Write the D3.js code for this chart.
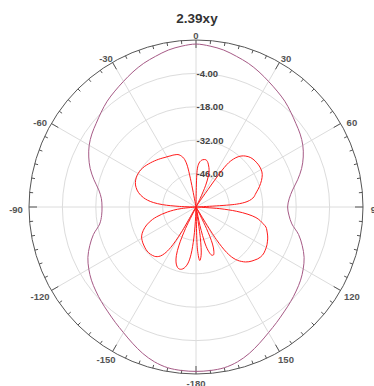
<!DOCTYPE html>
<html>
<head>
<meta charset="utf-8">
<script src="https://cdn.jsdelivr.net/npm/d3@7"></script>
<style>
  html, body { margin: 0; padding: 0; background: #fff; }
  svg { display: block; font-family: "Liberation Sans", Arial, sans-serif; }
</style>
</head>
<body>
<svg id="chart" width="374" height="386"></svg>
<script>
// Polar pattern, 2.39xy cut. Angles in degrees (0 at top, clockwise), gain in dB.
const title = "2.39xy";

// Outer trace, sampled every 5 degrees from -180 to 175
const outerAngles = [
  -180,-175,-170,-165,-160,-155,-150,-145,-140,-135,-130,-125,-120,-115,-110,-105,-100,-95,
  -90,-85,-80,-75,-70,-65,-60,-55,-50,-45,-40,-35,-30,-25,-20,-15,-10,-5,
  0,5,10,15,20,25,30,35,40,45,50,55,60,65,70,75,80,85,
  90,95,100,105,110,115,120,125,130,135,140,145,150,155,160,165,170,175
];
const outerGain = [
  8.9,8.8,8.4,7.2,5.3,3.0,0.8,-1.0,-2.6,-3.9,-5.2,-6.5,-8.1,-10.0,-12.6,-15.5,-19.0,-20.3,
  -20.6,-20.2,-18.6,-15.7,-12.8,-10.4,-8.3,-6.7,-5.4,-3.8,-2.1,-0.7,0.8,2.5,4.1,5.4,6.8,7.7,
  8.3,7.7,6.8,5.4,4.1,2.5,0.8,-0.7,-2.1,-3.8,-5.4,-6.7,-8.3,-10.4,-12.9,-15.9,-18.9,-20.8,
  -21.6,-20.9,-19.2,-15.5,-12.6,-10.0,-8.1,-6.5,-5.2,-3.9,-2.6,-1.0,0.8,3.0,5.3,7.2,8.4,8.8
];

// Inner trace, sampled every 2 degrees from -180 to 178
const innerAngles = [
  -180,-178,-176,-174,-172,-170,-168,-166,-164,-162,-160,-158,-156,-154,-152,-150,-148,-146,-144,-142,
  -140,-138,-136,-134,-132,-130,-128,-126,-124,-122,-120,-118,-116,-114,-112,-110,-108,-106,-104,-102,
  -100,-98,-96,-94,-92,-90,-88,-86,-84,-82,-80,-78,-76,-74,-72,-70,-68,-66,-64,-62,
  -60,-58,-56,-54,-52,-50,-48,-46,-44,-42,-40,-38,-36,-34,-32,-30,-28,-26,-24,-22,
  -20,-18,-16,-14,-12,-10,-8,-6,-4,-2,
  0,2,4,6,8,10,12,14,16,18,20,22,24,26,28,30,32,34,36,38,
  40,42,44,46,48,50,52,54,56,58,60,62,64,66,68,70,72,74,76,78,
  80,82,84,86,88,90,92,94,96,98,100,102,104,106,108,110,112,114,116,118,
  120,122,124,126,128,130,132,134,136,138,140,142,144,146,148,150,152,154,156,158,
  160,162,164,166,168,170,172,174,176,178
];
const innerGain = [
  -60,-56,-47,-40,-36.3,-34.5,-33.5,-33.1,-33.2,-34,-35.5,-38,-42.5,-50,-60,-48,-40,-36.5,-34.6,-33.6,
  -33,-32.7,-32.5,-32.4,-32.4,-32.5,-32.7,-32.9,-33.1,-33.4,-33.7,-34.2,-34.9,-35.8,-36.8,-38,-39.4,-41,-43,-45.3,
  -47.8,-50.5,-54,-60,-60,-60,-53,-46,-42,-39.5,-37.7,-36.3,-35.2,-34.3,-33.6,-33,-32.6,-32.3,-32.1,-32,
  -32,-32,-32.1,-32.3,-32.5,-32.8,-33.1,-33.4,-33.7,-34,-34.3,-34.6,-34.9,-35.2,-35.5,-35.7,-35.9,-36.1,-36.2,-36.4,
  -36.6,-37,-37.8,-39,-42,-60,-60,-60,-60,-60,
  -60,-44,-41.5,-40.5,-40,-39.8,-39.8,-40.3,-41.3,-42.5,-44,-46.5,-50,-56,-60,-60,-60,-55,-38,-34.5,
  -32.5,-31.2,-30.3,-29.6,-29.1,-28.8,-28.6,-28.5,-28.4,-28.4,-28.5,-28.7,-29.1,-29.7,-30.4,-31.2,-32,-32.9,-33.8,-34.6,
  -35.3,-36.5,-38.5,-43,-60,-60,-60,-50,-43,-38,-34.5,-32.5,-31,-29.5,-28.8,-28.2,-27.6,-27.1,-26.7,-26.3,
  -26,-25.8,-25.6,-25.6,-25.8,-26.2,-26.8,-27.4,-28.1,-29,-30.2,-31.6,-33.6,-37,-44,-60,-60,-50,-43,-40,
  -38.6,-38.8,-40.5,-44,-52,-60,-47,-39.5,-37.5,-42
];

// Grid rings and their labels
const ringValues = [-46, -32, -18, -4];
const ringLabels = ["-46.00", "-32.00", "-18.00", "-4.00"];

// Angular tick labels (every 30 degrees)
const angleTicks = [-150, -120, -90, -60, -30, 0, 30, 60, 90, 120, 150, 180];
const angleTickLabels = ["-150", "-120", "-90", "-60", "-30", "0", "30", "60", "90", "120", "150", "-180"];

const svg = d3.select("#chart");
const cx = 196, cy = 207, R = 167;

const rScale = d3.scaleLinear().domain([-60, 10]).range([0, R]).clamp(true);
const aScale = d3.scaleLinear().domain([-180, 180]).range([-Math.PI, Math.PI]);

const g = svg.append("g").attr("transform", `translate(${cx},${cy})`);

// title
svg.append("text")
  .attr("x", 197).attr("y", 23)
  .attr("text-anchor", "middle")
  .attr("font-size", 13.5)
  .attr("font-weight", "bold")
  .attr("fill", "#333")
  .text(title);

// rings
g.selectAll("circle.ring").data(ringValues).join("circle")
  .attr("class", "ring")
  .attr("r", d => rScale(d))
  .attr("fill", "none")
  .attr("stroke", "#dcdcdc")
  .attr("stroke-width", 1);

// spokes
const spokeAngles = d3.range(-180, 180, 30);
g.selectAll("line.spoke").data(spokeAngles).join("line")
  .attr("class", "spoke")
  .attr("x1", 0).attr("y1", 0)
  .attr("x2", d => R * Math.sin(aScale(d)))
  .attr("y2", d => -R * Math.cos(aScale(d)))
  .attr("stroke", "#dcdcdc")
  .attr("stroke-width", 1);

// outer axis circle
g.append("circle")
  .attr("r", R)
  .attr("fill", "none")
  .attr("stroke", "#555")
  .attr("stroke-width", 1);

// ticks: minor every 5 deg, major every 30 deg
const tickAngles = d3.range(-180, 180, 5);
g.selectAll("line.tick").data(tickAngles).join("line")
  .attr("class", "tick")
  .attr("x1", d => R * Math.sin(aScale(d)))
  .attr("y1", d => -R * Math.cos(aScale(d)))
  .attr("x2", d => (R - (d % 30 === 0 ? 8 : 3.5)) * Math.sin(aScale(d)))
  .attr("y2", d => -(R - (d % 30 === 0 ? 8 : 3.5)) * Math.cos(aScale(d)))
  .attr("stroke", "#555")
  .attr("stroke-width", 1);

// angular labels
g.selectAll("text.alabel").data(angleTicks).join("text")
  .attr("class", "alabel")
  .attr("x", d => 180 * Math.sin(aScale(d)))
  .attr("y", d => 2 - 174 * Math.cos(aScale(d)))
  .attr("text-anchor", "middle")
  .attr("dominant-baseline", "central")
  .attr("font-size", 9.5)
  .attr("font-weight", "bold")
  .attr("fill", "#555")
  .text((d, i) => angleTickLabels[i]);

// ring labels along the 0 deg spoke
g.selectAll("text.rlabel").data(ringValues).join("text")
  .attr("class", "rlabel")
  .attr("x", 0.5)
  .attr("y", d => -rScale(d))
  .attr("dominant-baseline", "central")
  .attr("font-size", 9.5)
  .attr("font-weight", "bold")
  .attr("fill", "#444")
  .text((d, i) => ringLabels[i]);

const radial = d3.lineRadial()
  .angle(d => aScale(d[0]))
  .radius(d => rScale(d[1]))
  .curve(d3.curveCatmullRomClosed.alpha(0.5));

g.append("path")
  .datum(outerAngles.map((a, i) => [a, outerGain[i]]))
  .attr("d", radial)
  .attr("fill", "none")
  .attr("stroke", "#a65a86")
  .attr("stroke-width", 1);

g.append("path")
  .datum(innerAngles.map((a, i) => [a, innerGain[i]]))
  .attr("d", radial)
  .attr("fill", "none")
  .attr("stroke", "#ff1a1a")
  .attr("stroke-width", 1);
</script>
</body>
</html>
